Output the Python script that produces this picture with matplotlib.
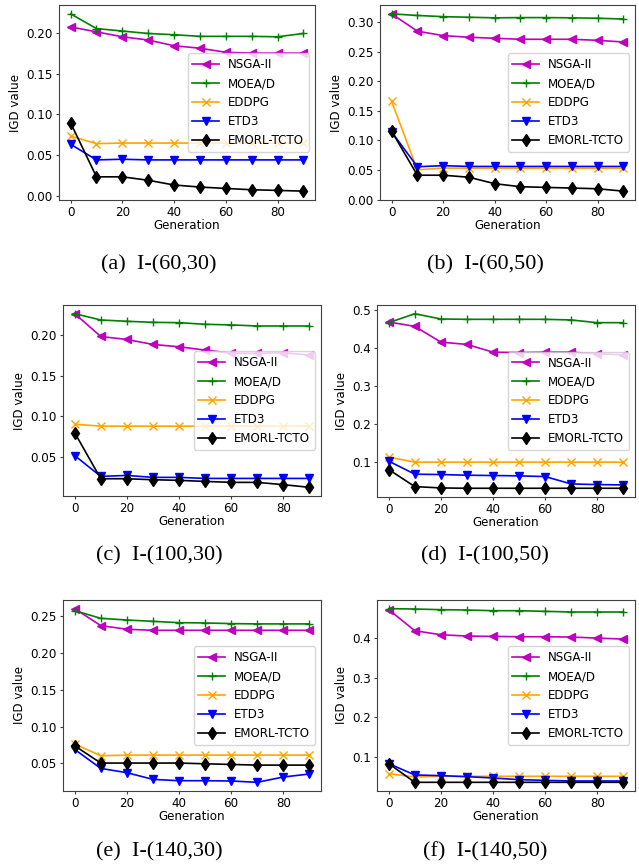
import matplotlib
matplotlib.use('Agg')
import matplotlib.pyplot as plt

# generations on the x axis (same for every panel)
generations = [0, 10, 20, 30, 40, 50, 60, 70, 80, 90]

algorithms = ['NSGA-II', 'MOEA/D', 'EDDPG', 'ETD3', 'EMORL-TCTO']
captions = ['(a)  I-(60,30)', '(b)  I-(60,50)', '(c)  I-(100,30)',
            '(d)  I-(100,50)', '(e)  I-(140,30)', '(f)  I-(140,50)']

# (a) I-(60,30)
nsga_a = [0.207, 0.201, 0.195, 0.191, 0.184, 0.181, 0.176, 0.175, 0.175, 0.175]
moead_a = [0.223, 0.205, 0.202, 0.199, 0.1975, 0.1955, 0.1955, 0.1955, 0.195, 0.199]
eddpg_a = [0.0735, 0.0643, 0.065, 0.065, 0.065, 0.065, 0.065, 0.065, 0.065, 0.065]
etd3_a = [0.0635, 0.0444, 0.0452, 0.0444, 0.0444, 0.0444, 0.0444, 0.0444, 0.0444, 0.0444]
emorl_a = [0.0896, 0.0237, 0.0237, 0.0195, 0.0137, 0.0112, 0.0095, 0.0079, 0.0071, 0.0062]

# (b) I-(60,50)
nsga_b = [0.3137, 0.2845, 0.277, 0.2742, 0.2725, 0.2708, 0.2708, 0.2708, 0.269, 0.2662]
moead_b = [0.3137, 0.311, 0.309, 0.308, 0.307, 0.3074, 0.3074, 0.307, 0.3063, 0.305]
eddpg_b = [0.166, 0.0504, 0.0532, 0.053, 0.053, 0.053, 0.053, 0.053, 0.053, 0.053]
etd3_b = [0.1145, 0.0555, 0.0573, 0.056, 0.056, 0.056, 0.056, 0.056, 0.056, 0.056]
emorl_b = [0.1157, 0.0412, 0.0412, 0.0378, 0.0269, 0.0218, 0.0206, 0.0195, 0.0183, 0.0143]

# (c) I-(100,30)
nsga_c = [0.2266, 0.1984, 0.1947, 0.1886, 0.1857, 0.1816, 0.1779, 0.1775, 0.1783, 0.1755]
moead_c = [0.2266, 0.2188, 0.2172, 0.2159, 0.2155, 0.2135, 0.2127, 0.2114, 0.2114, 0.2114]
eddpg_c = [0.090, 0.0876, 0.0876, 0.0876, 0.0876, 0.0876, 0.0876, 0.0876, 0.0876, 0.0876]
etd3_c = [0.0512, 0.0255, 0.0267, 0.0243, 0.0243, 0.023, 0.023, 0.023, 0.023, 0.023]
emorl_c = [0.0794, 0.0226, 0.0226, 0.0214, 0.0206, 0.0193, 0.0181, 0.0181, 0.0153, 0.012]

# (d) I-(100,50)
nsga_d = [0.4683, 0.4568, 0.4154, 0.4093, 0.389, 0.388, 0.389, 0.389, 0.3846, 0.382]
moead_d = [0.4665, 0.490, 0.4762, 0.4753, 0.4753, 0.4753, 0.4753, 0.4736, 0.4665, 0.4665]
eddpg_d = [0.1132, 0.100, 0.100, 0.100, 0.100, 0.100, 0.100, 0.100, 0.100, 0.100]
etd3_d = [0.1026, 0.0683, 0.0674, 0.0656, 0.0648, 0.0639, 0.0621, 0.0427, 0.041, 0.0401]
emorl_d = [0.0806, 0.0357, 0.0322, 0.0313, 0.0313, 0.0313, 0.0313, 0.0313, 0.0313, 0.0313]

# (e) I-(140,30)
nsga_e = [0.2604, 0.2374, 0.2324, 0.231, 0.231, 0.231, 0.231, 0.231, 0.231, 0.231]
moead_e = [0.2577, 0.2473, 0.245, 0.2432, 0.2414, 0.241, 0.2401, 0.2397, 0.2397, 0.2397]
eddpg_e = [0.0762, 0.0604, 0.0613, 0.0613, 0.0613, 0.0613, 0.0613, 0.0613, 0.0613, 0.0613]
etd3_e = [0.069, 0.0432, 0.0374, 0.0283, 0.0265, 0.0265, 0.0261, 0.0243, 0.0315, 0.0356]
emorl_e = [0.0739, 0.0505, 0.0505, 0.0505, 0.0505, 0.0495, 0.0486, 0.0477, 0.0477, 0.0477]

# (f) I-(140,50)
nsga_f = [0.4727, 0.4194, 0.4093, 0.4059, 0.4051, 0.4042, 0.4042, 0.4034, 0.4008, 0.3983]
moead_f = [0.4752, 0.4744, 0.4727, 0.4718, 0.4701, 0.4701, 0.4685, 0.4668, 0.4668, 0.4668]
eddpg_f = [0.0577, 0.0493, 0.051, 0.051, 0.051, 0.051, 0.051, 0.051, 0.051, 0.051]
etd3_f = [0.0831, 0.0544, 0.0527, 0.0501, 0.0468, 0.0425, 0.0408, 0.0392, 0.0392, 0.0392]
emorl_f = [0.0831, 0.0358, 0.0358, 0.0358, 0.0358, 0.0358, 0.0358, 0.0358, 0.0358, 0.0358]

panels = [
    [nsga_a, moead_a, eddpg_a, etd3_a, emorl_a],
    [nsga_b, moead_b, eddpg_b, etd3_b, emorl_b],
    [nsga_c, moead_c, eddpg_c, etd3_c, emorl_c],
    [nsga_d, moead_d, eddpg_d, etd3_d, emorl_d],
    [nsga_e, moead_e, eddpg_e, etd3_e, emorl_e],
    [nsga_f, moead_f, eddpg_f, etd3_f, emorl_f],
]

colors = ['m', 'g', 'orange', 'b', 'k']
markers = ['<', '+', 'x', 'v', 'd']

W, H = 639, 867
fs = 8.6

# axes boxes in pixels: left, right, top, bottom
boxes = [
    (59, 315, 5, 200), (380, 635, 5, 200),
    (63, 321, 305, 496), (377, 635, 305, 497),
    (63, 321, 600, 791), (377, 635, 600, 791),
]
caption_xy = [(159, 265), (485, 265), (159, 556), (485, 556), (159, 852), (485, 852)]

fig = plt.figure(figsize=(W / 100, H / 100), dpi=100)

for i, series in enumerate(panels):
    l, r, t, b = boxes[i]
    ax = fig.add_axes([l / W, 1 - b / H, (r - l) / W, (b - t) / H])
    for name, vals, c, mk in zip(algorithms, series, colors, markers):
        ax.plot(generations, vals, color=c, marker=mk, markersize=6.2,
                linewidth=1.2, markeredgewidth=1.0, label=name)
    ax.set_xticks([0, 20, 40, 60, 80])
    ax.tick_params(labelsize=fs, length=2.5, pad=2, color='#404040')
    for sp in ax.spines.values():
        sp.set_color('#404040')
    ax.set_xlabel('Generation', fontsize=fs, labelpad=0)
    ax.set_ylabel('IGD value', fontsize=fs, labelpad=3)
    ax.legend(loc='center right', fontsize=fs, handlelength=2.2)
    cx, cy = caption_xy[i]
    fig.text(cx / W, 1 - cy / H, captions[i], ha='center', va='center',
             fontsize=16, family='Liberation Serif')

fig.savefig('out.png', dpi=100)
